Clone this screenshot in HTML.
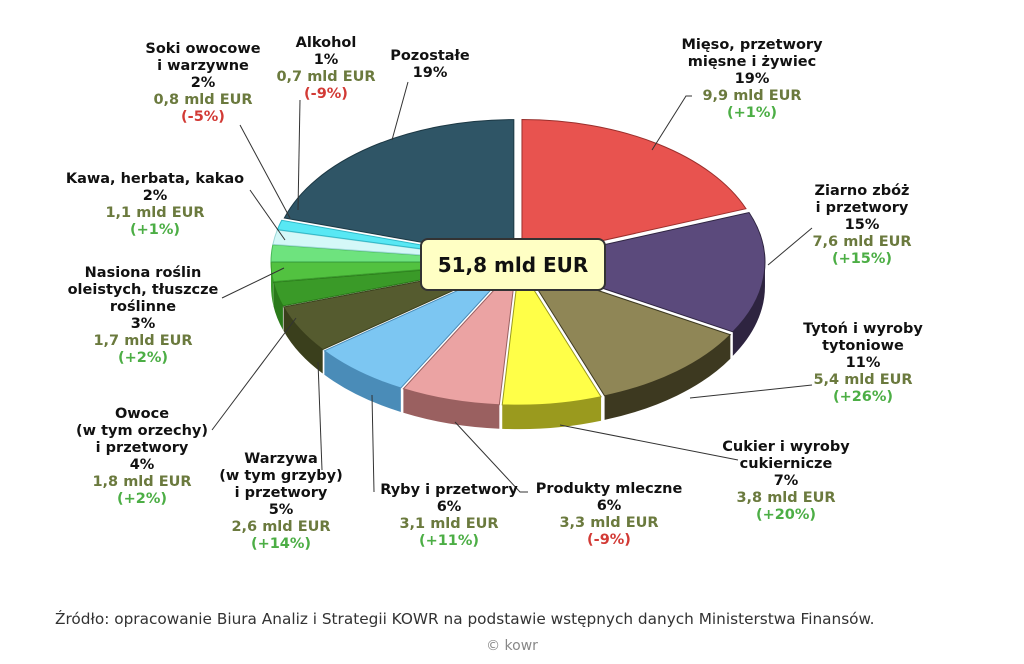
<!DOCTYPE html>
<html><head><meta charset="utf-8">
<style>
body{margin:0;background:#fff;width:1024px;height:664px;overflow:hidden;}
svg{display:block}
.l{font-family:"DejaVu Sans","Liberation Sans",sans-serif;font-weight:bold;font-size:14.5px;text-anchor:middle;fill:#111}
.m{fill:#6b7a3e}.p{fill:#4cae45}.n{fill:#d23a35}
</style></head><body>
<svg id="s" width="1024" height="664" viewBox="0 0 1024 664" xmlns="http://www.w3.org/2000/svg">
<g id="pie"></g>
<g stroke="#333" stroke-width="1" fill="none">
<polyline points="692,96 686,96 652,150"/>
<polyline points="812,228 768,265"/>
<polyline points="812,385 690,398"/>
<polyline points="738,460 560,425"/>
<polyline points="528,492 520,492 455,422"/>
<polyline points="374,492 372,395"/>
<polyline points="322,470 318,362"/>
<polyline points="212,430 296,318"/>
<polyline points="222,298 284,268"/>
<polyline points="250,190 285,240"/>
<polyline points="240,125 290,218"/>
<polyline points="300,100 298,210"/>
<polyline points="408,82 392,140"/>
</g>
<rect x="421" y="239" width="184" height="51" rx="7" fill="#ffffc4" stroke="#333" stroke-width="2"/>
<text x="513" y="272" style="font-family:'DejaVu Sans','Liberation Sans',sans-serif;font-weight:bold;font-size:20px;text-anchor:middle;fill:#111">51,8 mld EUR</text>
<g class="l">
<text x="752" y="49">Mięso, przetwory</text><text x="752" y="66">mięsne i żywiec</text><text x="752" y="83">19%</text><text x="752" y="100" class="m">9,9 mld EUR</text><text x="752" y="117" class="p">(+1%)</text>
<text x="862" y="195">Ziarno zbóż</text><text x="862" y="212">i przetwory</text><text x="862" y="229">15%</text><text x="862" y="246" class="m">7,6 mld EUR</text><text x="862" y="263" class="p">(+15%)</text>
<text x="863" y="333">Tytoń i wyroby</text><text x="863" y="350">tytoniowe</text><text x="863" y="367">11%</text><text x="863" y="384" class="m">5,4 mld EUR</text><text x="863" y="401" class="p">(+26%)</text>
<text x="786" y="451">Cukier i wyroby</text><text x="786" y="468">cukiernicze</text><text x="786" y="485">7%</text><text x="786" y="502" class="m">3,8 mld EUR</text><text x="786" y="519" class="p">(+20%)</text>
<text x="609" y="493">Produkty mleczne</text><text x="609" y="510">6%</text><text x="609" y="527" class="m">3,3 mld EUR</text><text x="609" y="544" class="n">(-9%)</text>
<text x="449" y="494">Ryby i przetwory</text><text x="449" y="511">6%</text><text x="449" y="528" class="m">3,1 mld EUR</text><text x="449" y="545" class="p">(+11%)</text>
<text x="281" y="463">Warzywa</text><text x="281" y="480">(w tym grzyby)</text><text x="281" y="497">i przetwory</text><text x="281" y="514">5%</text><text x="281" y="531" class="m">2,6 mld EUR</text><text x="281" y="548" class="p">(+14%)</text>
<text x="142" y="418">Owoce</text><text x="142" y="435">(w tym orzechy)</text><text x="142" y="452">i przetwory</text><text x="142" y="469">4%</text><text x="142" y="486" class="m">1,8 mld EUR</text><text x="142" y="503" class="p">(+2%)</text>
<text x="143" y="277">Nasiona roślin</text><text x="143" y="294">oleistych, tłuszcze</text><text x="143" y="311">roślinne</text><text x="143" y="328">3%</text><text x="143" y="345" class="m">1,7 mld EUR</text><text x="143" y="362" class="p">(+2%)</text>
<text x="155" y="183">Kawa, herbata, kakao</text><text x="155" y="200">2%</text><text x="155" y="217" class="m">1,1 mld EUR</text><text x="155" y="234" class="p">(+1%)</text>
<text x="203" y="53">Soki owocowe</text><text x="203" y="70">i warzywne</text><text x="203" y="87">2%</text><text x="203" y="104" class="m">0,8 mld EUR</text><text x="203" y="121" class="n">(-5%)</text>
<text x="326" y="47">Alkohol</text><text x="326" y="64">1%</text><text x="326" y="81" class="m">0,7 mld EUR</text><text x="326" y="98" class="n">(-9%)</text>
<text x="430" y="60">Pozostałe</text><text x="430" y="77">19%</text>
</g>
<text x="55" y="624" style="font-family:'DejaVu Sans','Liberation Sans',sans-serif;font-size:15.3px;fill:#333">Źródło: opracowanie Biura Analiz i Strategii KOWR na podstawie wstępnych danych Ministerstwa Finansów.</text>
<text x="512" y="650" style="font-family:'DejaVu Sans','Liberation Sans',sans-serif;font-size:14px;fill:#888;text-anchor:middle">© kowr</text>
</svg>
<script>
(function(){
var cx=518,cy=262,rx=240,ry=139,D=24,E=7;
var S=[[0,69,'#e8534f','#9a2f2c'],[69,120,'#5b4a7c','#2e2440'],[120,160,'#8f8656','#3d3920'],[160,184,'#ffff48','#9a9a1e'],[184,208,'#eba3a3','#9a6060'],[208,232,'#7cc6f2','#4a8cb8'],[232,252,'#555b2f','#3a3f1c'],[252,262,'#3a9a28','#2a7a1a'],[262,270,'#52c240','#3a9a2c'],[270,277,'#6ee37e','#48b858'],[277,283,'#d4f8f8','#9cd8d8'],[283,287,'#58e8f4','#30b8c8'],[287,360,'#2f5566','#1c3844']];
var r=Math.PI/180,h='',t='';
function P(a,dx,dy,z){return [cx+dx+rx*Math.sin(a*r),cy+dy-ry*Math.cos(a*r)+(z||0)];}
S.forEach(function(s){
 var m=(s[0]+s[1])/2,dx=E*Math.sin(m*r),dy=E*0.6*-Math.cos(m*r);
 var a0=s[0],a1=s[1];
 var b0=Math.max(a0,90),b1=Math.min(a1,270);
 if(b1>b0){var p=P(b0,dx,dy),q=P(b1,dx,dy),q2=P(b1,dx,dy,D),p2=P(b0,dx,dy,D);
  h+='<path d="M'+p+' A'+rx+' '+ry+' 0 0 1 '+q+' L'+q2+' A'+rx+' '+ry+' 0 0 0 '+p2+' Z" fill="'+s[3]+'"/>';}
 var p=P(a0,dx,dy),q=P(a1,dx,dy),lg=(a1-a0)>180?1:0;
 t+='<path d="M'+(cx+dx)+','+(cy+dy)+' L'+p+' A'+rx+' '+ry+' 0 '+lg+' 1 '+q+' Z" fill="'+s[2]+'" stroke="'+s[3]+'" stroke-width="1"/>';
});
document.getElementById('pie').innerHTML=h+t;
})();
</script>
</body></html>
